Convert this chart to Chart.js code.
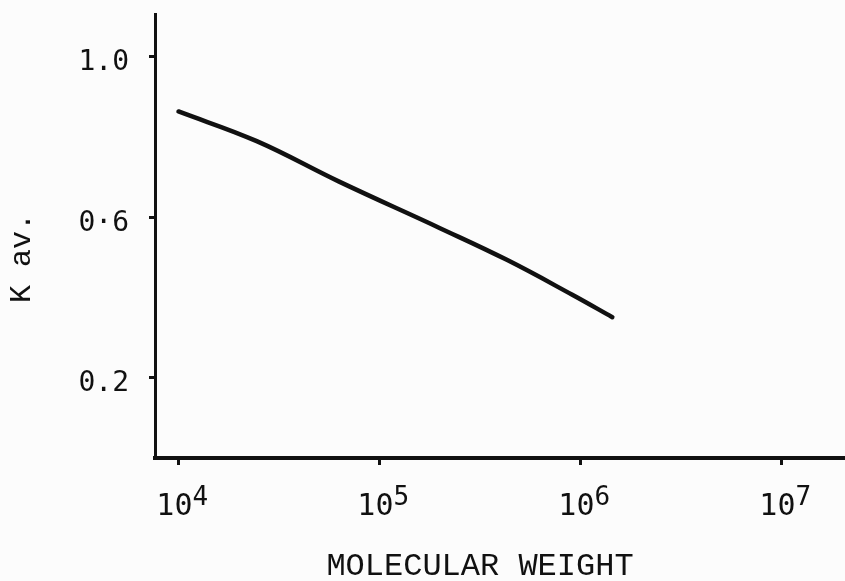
<!DOCTYPE html>
<html>
<head>
<meta charset="utf-8">
<script src="https://cdn.jsdelivr.net/npm/chart.js@4"></script>
<style>
  html, body { margin: 0; padding: 0; background: #fcfcfc; }
  #wrap { width: 845px; height: 581px; }
</style>
</head>
<body>
<div id="wrap"><canvas id="kavChart" width="845" height="581"></canvas></div>
<script>
// data (molecular weight vs K av.)
const molWeights = [1.0e4, 2.45e4, 6.3e4, 2.0e5, 4.3e5, 9.1e5, 1.44e6];
const kavValues  = [0.864, 0.790, 0.689, 0.573, 0.494, 0.407, 0.351];

const xTickExponents = [4, 5, 6, 7];
const yTickValues = [0.2, 0.6, 1.0];
const yTickLabels = ['0.2', '0·6', '1.0'];

const INK = '#111111';

// typed labels, placed with the chart's own scales
const typedLabels = {
    id: 'typedLabels',
    afterDraw(chart) {
        const ctx = chart.ctx;
        const xs = chart.scales.x;
        const ys = chart.scales.y;
        ctx.save();
        ctx.fillStyle = INK;

        // y tick labels
        ctx.font = "28px 'DejaVu Sans Mono'";
        ctx.textAlign = 'right';
        ctx.textBaseline = 'middle';
        yTickValues.forEach((v, i) => {
            ctx.fillText(yTickLabels[i], 129, ys.getPixelForValue(v) + 6);
        });

        // x tick labels: 10 with raised exponent
        xTickExponents.forEach(e => {
            const px = xs.getPixelForValue(Math.pow(10, e));
            ctx.font = "30px 'DejaVu Sans Mono'";
            ctx.textAlign = 'right';
            ctx.textBaseline = 'alphabetic';
            ctx.fillText('10', px + 14, 515);
            ctx.font = "26px 'DejaVu Sans Mono'";
            ctx.textAlign = 'left';
            ctx.fillText(String(e), px + 14, 505);
        });

        // axis titles
        ctx.font = "32px 'Liberation Mono'";
        ctx.textAlign = 'center';
        ctx.textBaseline = 'middle';
        ctx.fillText('MOLECULAR WEIGHT', 480, 567);

        ctx.translate(22, 258);
        ctx.rotate(-Math.PI / 2);
        ctx.font = "30px 'Liberation Mono'";
        ctx.fillText('K av.', 0, 0);
        ctx.restore();
    }
};

new Chart(document.getElementById('kavChart'), {
    type: 'line',
    data: {
        datasets: [{
            data: molWeights.map((m, i) => ({ x: m, y: kavValues[i] })),
            borderColor: INK,
            borderWidth: 4.5,
            pointRadius: 0,
            tension: 0.4,
            borderCapStyle: 'round',
            fill: false
        }]
    },
    options: {
        responsive: false,
        devicePixelRatio: 1,
        animation: false,
        layout: { padding: { left: 149, top: 14, right: 0, bottom: 116 } },
        plugins: {
            legend: { display: false },
            tooltip: { enabled: false }
        },
        scales: {
            x: {
                type: 'logarithmic',
                min: 7640,
                max: 2.07e7,
                afterBuildTicks: scale => {
                    scale.ticks = xTickExponents.map(e => ({ value: Math.pow(10, e) }));
                },
                ticks: { display: false },
                grid: {
                    drawOnChartArea: false,
                    drawTicks: true,
                    tickLength: 7,
                    tickColor: INK,
                    lineWidth: 3
                },
                border: { display: true, color: INK, width: 4 }
            },
            y: {
                min: 0,
                max: 1.107,
                afterBuildTicks: scale => {
                    scale.ticks = yTickValues.map(v => ({ value: v }));
                },
                ticks: { display: false },
                grid: {
                    drawOnChartArea: false,
                    drawTicks: true,
                    tickLength: 6,
                    tickColor: INK,
                    lineWidth: 3
                },
                border: { display: true, color: INK, width: 3 }
            }
        }
    },
    plugins: [typedLabels]
});
</script>
</body>
</html>
